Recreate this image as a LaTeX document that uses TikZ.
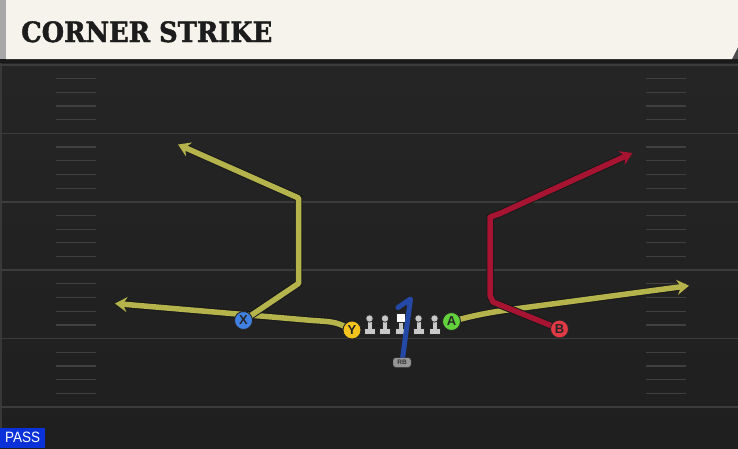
\documentclass[tikz,border=0pt]{standalone}
\usepackage{fontspec}
\usepackage{tikz}
\usetikzlibrary{arrows.meta}
\newfontfamily\titlefont[BoldFeatures={FakeBold=1.6}]{DejaVu Serif}
\newfontfamily\labelfont{Liberation Sans}
\definecolor{fieldtop}{RGB}{38,38,38}
\definecolor{fieldbot}{RGB}{31,31,31}
\definecolor{yardgrey}{RGB}{60,60,60}
\definecolor{hashgrey}{RGB}{64,64,64}
\definecolor{headercream}{RGB}{245,243,236}
\definecolor{headerstrip}{RGB}{168,168,168}
\definecolor{titleblack}{RGB}{28,28,28}
\definecolor{routeyellow}{RGB}{180,179,76}
\definecolor{routered}{RGB}{166,20,50}
\definecolor{qbblue}{RGB}{36,72,165}
\definecolor{xblue}{RGB}{64,128,225}
\definecolor{yyellow}{RGB}{243,196,30}
\definecolor{agreen}{RGB}{98,210,60}
\definecolor{bred}{RGB}{226,58,68}
\definecolor{lineman}{RGB}{200,200,200}
\definecolor{rbgrey}{RGB}{150,150,150}
\definecolor{passblue}{RGB}{10,50,216}
\begin{document}
\begin{tikzpicture}[x=1pt,y=-1pt,
  route/.style={line width=5.5pt,line join=round,preaction={draw=black!90,line width=7.5pt}},
  tip/.style={-{Stealth[length=12pt,width=15pt,inset=4pt]}},
  player/.style={circle,draw=black!85,line width=0.9pt,minimum size=18pt,inner sep=0pt,
    font=\labelfont\bfseries\fontsize{13}{13}\selectfont,text=black!85},
  hash/.style={draw=hashgrey,line width=1.2pt},
  blocker/.style={draw=black!85,fill=lineman,line width=0.7pt}]
\useasboundingbox (0,0) rectangle (738,448);
\shade[top color=fieldtop,bottom color=fieldbot] (0,0) rectangle (738,448);
\fill[black!78] (0,63) rectangle (2,448);
\foreach \y in {65,133.4,201.8,270.2,338.6,407}{\draw[yardgrey,line width=1.6pt] (0,\y) -- (738,\y);}
\foreach \y in {65,133.4,201.8,270.2,338.6}{
  \foreach \k in {1,2,3,4}{
    \draw[hash] (56,\y+\k*13.68) -- (96,\y+\k*13.68);
    \draw[hash] (646,\y+\k*13.68) -- (686,\y+\k*13.68);}}
\fill[black!90] (0,59) rectangle (738,63);
\fill[black!70] (732,59) -- (738,47) -- (738,59) -- cycle;
\fill[headerstrip] (0,0) rectangle (6,59);
\fill[headercream] (6,0) -- (738,0) -- (738,47) -- (732,59) -- (6,59) -- cycle;
\node[anchor=base west,inner sep=0pt,text=titleblack,font=\titlefont\bfseries\fontsize{28}{30}\selectfont] (title) at (21,42) {\scalebox{0.92}[1]{CORNER STRIKE}};
\coordinate (x) at (243.5,320.5);
\coordinate (y) at (352,330);
\coordinate (a) at (451.5,321.5);
\coordinate (b) at (559.5,329);
\coordinate (rb) at (402,362.5);
\draw[route,tip,routeyellow] (y) .. controls (336,322) .. (313,320.5) -- (115,303.5);
\draw[route,tip,routeyellow] (x) -- (298.5,283.5) -- (298.5,198) -- (178,144.5);
\draw[route,tip,routeyellow] (a) .. controls (475,315) and (490,312.5) .. (507,310) -- (689,285.7);
\draw[route,tip,routered] (b) -- (493,302) -- (490,295.5) -- (490,217) -- (500,213.5) -- (632.5,153);
\foreach \x in {369.5,385,418.5,434.5}{
  \draw[blocker] (\x-2.5,318) -- (\x-2.5,328) -- (\x-5.5,328) -- (\x-5.5,334.5) -- (\x+5.5,334.5) -- (\x+5.5,328) -- (\x+2.5,328) -- (\x+2.5,318) -- cycle;
  \draw[blocker] (\x,318.5) circle (3.7);}
\draw[blocker] (398.5,322) -- (398.5,328) -- (395.5,328) -- (395.5,334.5) -- (406.5,334.5) -- (406.5,328) -- (403.5,328) -- (403.5,322) -- cycle;
\draw[draw=black!85,fill=white,line width=0.7pt] (396.5,313.5) rectangle (405.5,322.5);
\coordinate (qbtop) at (410.5,299);
\coordinate (qbhook) at (398,307.5);
\draw[qbblue,line width=5pt,line join=round,line cap=round] (rb) -- (qbtop) -- (qbhook);
\node[fill=rbgrey,draw=black!80,rounded corners=2.5pt,minimum width=18pt,minimum height=9.5pt,inner sep=0pt,
  font=\labelfont\bfseries\fontsize{6.5}{6.5}\selectfont,text=black!80] (RB) at (rb) {RB};
\node[player,fill=xblue] (X) at (x) {X};
\node[player,fill=yyellow] (Y) at (y) {Y};
\node[player,fill=agreen] (A) at (a) {A};
\node[player,fill=bred] (B) at (b) {B};
\node[anchor=south west,fill=passblue,text=white,minimum width=45pt,minimum height=20pt,inner sep=0pt,
  font=\labelfont\fontsize{15}{15}\selectfont] (pass) at (0,448) {\scalebox{0.9}[1]{PASS}};
\end{tikzpicture}
\end{document}
